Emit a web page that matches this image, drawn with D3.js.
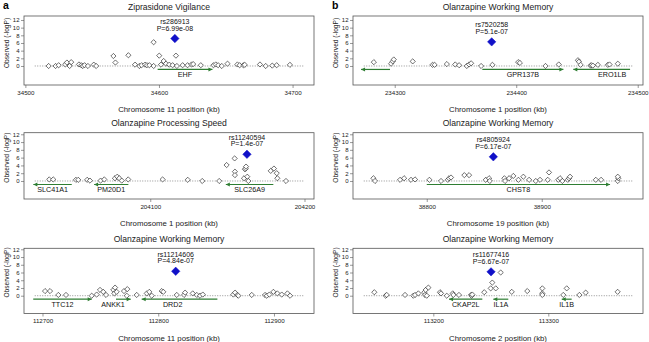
<!DOCTYPE html>
<html>
<head>
<meta charset="utf-8">
<script src="https://cdn.jsdelivr.net/npm/d3@7"></script>
<style>
  body { margin: 0; background: #fff; }
  text { font-family: "Liberation Sans", Arial, sans-serif; }
</style>
</head>
<body>
<script>
// 面板 a1: Ziprasidone Vigilance (chr11)
const a1_pos = [34517.4, 34522.6, 34524.9, 34529.9, 34531.1, 34534.3, 34533.1, 34540.1, 34541.8, 34543.0, 34544.3, 34546.8, 34551.2, 34553.0, 34565.9, 34567.4, 34577.1, 34582.1, 34585.3, 34587.0, 34589.6, 34591.0, 34592.8, 34596.0, 34596.0, 34600.2, 34601.5, 34603.5, 34605.2, 34607.7, 34610.2, 34612.7, 34613.4, 34617.7, 34621.4, 34624.4, 34625.6, 34631.3, 34640.8, 34642.5, 34644.3, 34647.0, 34651.3, 34658.7, 34660.4, 34663.2, 34664.2, 34675.6, 34679.9, 34684.8, 34688.1, 34698.0];
const a1_logp = [0, 0, 0.2, 0.4, 0.9, 1.0, 0, 0.4, 0.2, 0, 0.2, 0, 0.35, 0, 2.6, 0.9, 2.8, 0.35, 0, 0.2, 0.35, 0.2, 0.2, 0, 6.2, 2.7, 0.35, 1.3, 0.6, 0.35, 0.2, 2.7, 0, 0.2, 0.2, 0.4, 0.5, 0.2, 0.2, 0.4, 0.2, 0, 0.6, 0.4, 0.2, 0.2, 0.3, 0.4, 0, 0.1, 0.2, 0.3];
const a1_genes = [
  { name: 'EHF', start: 34599, end: 34640, strand: '+' }
];

// 面板 b1: Olanzapine Working Memory (chr1)
const b1_pos = [234282.8, 234297.0, 234298.4, 234299.2, 234314.8, 234331.1, 234332.8, 234342.9, 234349.8, 234353.0, 234359.3, 234361.2, 234362.9, 234371.1, 234380.4, 234401.6, 234403.0, 234424.1, 234435.0, 234450.8, 234451.6, 234453.0, 234461.2, 234461.8, 234463.1, 234467.2, 234475.4, 234476.8, 234483.6];
const b1_logp = [1.0, 0.6, 1.2, 1.7, 1.2, 0.3, 0.3, 0.5, 0.4, 0.2, 0, 0.4, 0.7, 0, 0.3, 1.0, 0.8, 0, 0.4, 1.5, 1.1, 0.3, 0.1, 0.2, 0.1, 0.3, 0.3, 0.4, 0.6];
const b1_genes = [
  { name: '', start: 234272.3, end: 234296.1, strand: '-' },
  { name: 'GPR137B', start: 234372.1, end: 234438.8, strand: '+' },
  { name: 'ERO1LB', start: 234447.0, end: 234493.7, strand: '-', label: 234478.9 }
];

// 面板 a2: Olanzapine Processing Speed (chr1)
const a2_pos = [204034.5, 204037.1, 204051.8, 204053.3, 204059.1, 204060.9, 204067.8, 204070.2, 204077.1, 204078.6, 204079.9, 204081.5, 204085.7, 204108.0, 204124.3, 204133.7, 204144.7, 204149.5, 204154.7, 204154.9, 204154.9, 204160.8, 204161.4, 204161.9, 204162.1, 204162.9, 204163.6, 204178.1, 204180.2, 204182.0, 204182.4, 204188.0];
const a2_logp = [0.4, 0.4, 0.3, 0.3, 0.3, 0.1, 0.1, 0.4, 0.7, 1.1, 0.7, 0.1, 0.4, 0.4, 0.3, 0, 0, 4.1, 5.8, 2.4, 1.5, 0.7, 3.0, 3.2, 3.7, 1.1, 0, 2.6, 3.2, 2.0, 0.7, 0];
const a2_genes = [
  { name: 'SLC41A1', start: 204024.2, end: 204049.1, strand: '-' },
  { name: 'PM20D1', start: 204063.6, end: 204085.8, strand: '-' },
  { name: 'SLC26A9', start: 204149.0, end: 204179.8, strand: '-' }
];

// 面板 b2: Olanzapine Working Memory (chr19)
const b2_pos = [38753.6, 38755.0, 38776.8, 38780.3, 38786.3, 38789.8, 38802.3, 38812.4, 38818.3, 38819.4, 38821.1, 38832.7, 38836.8, 38851.3, 38854.2, 38854.8, 38867.5, 38868.1, 38871.6, 38875.3, 38879.7, 38884.0, 38889.0, 38894.8, 38898.5, 38905.2, 38906.3, 38914.4, 38915.9, 38917.9, 38922.6, 38923.7, 38924.6, 38947.0, 38951.6, 38966.1, 38966.6, 38966.1];
const b2_logp = [0.7, 0, 0.3, 0.7, 0.3, 0.4, 0.3, 0, 0.3, 0.7, 0.9, 1.5, 1.5, 0.3, 0.7, 0, 0.7, 0, 0.7, 1.3, 0.3, 1.1, 0.3, 0, 0.3, 0.3, 2.2, 0.3, 0.7, 0, 0.3, 0.7, 1.1, 0.3, 0.3, 0, 0.7, 1.1];
const b2_genes = [
  { name: 'CHST8', start: 38800.0, end: 38959.4, strand: '+' }
];

// 面板 a3: Olanzapine Working Memory (chr11)
const a3_pos = [112702.2, 112706.5, 112713.7, 112720.3, 112742.5, 112746.8, 112749.7, 112752.5, 112754.9, 112761.2, 112762.7, 112762.1, 112764.1, 112770.4, 112773.3, 112772.8, 112781.4, 112790.1, 112792.3, 112794.4, 112803.0, 112804.4, 112816.0, 112822.3, 112823.2, 112829.8, 112833.3, 112836.1, 112838.5, 112864.9, 112866.4, 112868.4, 112869.2, 112880.8, 112892.3, 112893.8, 112896.0, 112899.5, 112902.9, 112906.7, 112911.6, 112913.9];
const a3_logp = [1.2, 1.2, 0.2, 0.2, 0, 0.3, 1.5, 1.0, 0.2, 1.5, 2.1, 0.6, 1.0, 1.2, 1.7, 0, 0.2, 0.6, 1.0, 0, 1.2, 1.0, 0.2, 0.2, 0.8, 0.6, 0.2, 0, 0.3, 0.3, 0.8, 0.2, 0, 0.2, 0.2, 0, 0.3, 1.0, 0.6, 0.3, 0.6, 0];
const a3_genes = [
  { name: 'TTC12', start: 112692.0, end: 112742.5, strand: '+' },
  { name: 'ANKK1', start: 112763.5, end: 112776.2, strand: '+', label: 112760.9 },
  { name: 'DRD2', start: 112785.7, end: 112851.1, strand: '-', label: 112812.5 }
];

// 面板 b3: Olanzapine Working Memory (chr2)
const b3_pos = [113148.7, 113158.6, 113159.5, 113175.4, 113182.6, 113184.1, 113187.0, 113192.2, 113193.4, 113195.7, 113192.8, 113194.3, 113205.8, 113206.7, 113211.7, 113216.9, 113217.4, 113222.3, 113232.8, 113233.4, 113233.9, 113244.3, 113249.9, 113251.3, 113254.3, 113258.6, 113268.2, 113281.7, 113294.8, 113294.8, 113294.8, 113313.0, 113316.0, 113327.0, 113332.5, 113360.3];
const b3_logp = [0.9, 0, 0.2, 0.2, 0, 0.2, 0.6, 0.9, 1.5, 2.1, 0.2, 0, 0.9, 0.6, 0, 0.6, 0.2, 0.2, 0.2, 0, 0.3, 0.9, 1.9, 3.4, 1.9, 6.0, 1.0, 1.2, 1.9, 0.6, 0.2, 0.2, 1.9, 0.2, 0.8, 1.0];
const b3_genes = [
  { name: 'CKAP2L', start: 113213.7, end: 113242.6, strand: '-' },
  { name: 'IL1A', start: 113252.2, end: 113265.2, strand: '-' },
  { name: 'IL1B', start: 113311.7, end: 113320.3, strand: '-' }
];

// 面板元信息：标题、染色体、x 范围、刻度、最显著 SNP
const panels = [
  { tag: 'a', col: 0, row: 0, title: 'Ziprasidone Vigilance', chr: 11, xlim: [34507, 34708], ticks: [34500, 34600, 34700],
    pos: a1_pos, logp: a1_logp, genes: a1_genes, lead: { rs: 'rs286913', p: '6.99e-08', pos: 34611.9 } },
  { tag: 'b', col: 1, row: 0, title: 'Olanzapine Working Memory', chr: 1, xlim: [234274.5, 234495.5], ticks: [234300, 234400, 234500],
    pos: b1_pos, logp: b1_logp, genes: b1_genes, lead: { rs: 'rs7520258', p: '5.1e-07', pos: 234379.8 } },
  { tag: '', col: 0, row: 1, title: 'Olanzapine Processing Speed', chr: 1, xlim: [204025.1, 204199.2], ticks: [204100, 204200],
    pos: a2_pos, logp: a2_logp, genes: a2_genes, lead: { rs: 'rs11240594', p: '1.4e-07', pos: 204162.7 } },
  { tag: '', col: 1, row: 1, title: 'Olanzapine Working Memory', chr: 19, xlim: [38745.2, 38978.7], ticks: [38800, 38900],
    pos: b2_pos, logp: b2_logp, genes: b2_genes, lead: { rs: 'rs4805924', p: '6.17e-07', pos: 38857.9 } },
  { tag: '', col: 0, row: 2, title: 'Olanzapine Working Memory', chr: 11, xlim: [112693.3, 112925.3], ticks: [112700, 112800, 112900],
    pos: a3_pos, logp: a3_logp, genes: a3_genes, lead: { rs: 'rs11214606', p: '4.84e-07', pos: 112815.1 } },
  { tag: '', col: 1, row: 2, title: 'Olanzapine Working Memory', chr: 2, xlim: [113139.5, 113373], ticks: [113200, 113300],
    pos: b3_pos, logp: b3_logp, genes: b3_genes, lead: { rs: 'rs11677416', p: '6.67e-07', pos: 113250.2 } }
];

const yTicks = [0, 2, 4, 6, 8, 10, 12];

// 画布布局
const width = 649;
const height = 342;
const cols = [{ left: 24, right: 314 }, { left: 353, right: 643 }];
const rows = [
  { top: 16, bottom: 85, ylim: [-4.96, 13.04] },
  { top: 132.7, bottom: 199, ylim: [-4.63, 12.41] },
  { top: 248.3, bottom: 313.5, ylim: [-4.6, 12.26] }
];
const geneColor = '#2e7d32';
const leadColor = '#1010c8';

const svg = d3.select('body').append('svg')
  .attr('width', width)
  .attr('height', height);

// 菱形（R pch=5 的样子）
function diamond(r) {
  return `M0,${-r}L${r},0L0,${r}L${-r},0Z`;
}

function drawPanel(p) {
  const c = cols[p.col], rw = rows[p.row];
  const pad = (p.xlim[1] - p.xlim[0]) * 0.04;
  const x = d3.scaleLinear().domain([p.xlim[0] - pad, p.xlim[1] + pad]).range([c.left, c.right]);
  const y = d3.scaleLinear().domain(rw.ylim).range([rw.bottom, rw.top]);
  const g = svg.append('g');
  const cx = (c.left + c.right) / 2;

  // 标题
  g.append('text')
    .attr('x', cx).attr('y', rw.top - 9.3)
    .attr('dy', '0.35em')
    .attr('text-anchor', 'middle')
    .attr('font-size', 8.6)
    .attr('fill', '#222')
    .text(p.title);

  if (p.tag) {
    g.append('text')
      .attr('x', c.left - 21).attr('y', 8.5)
      .attr('font-size', 10.5)
      .attr('font-weight', 'bold')
      .text(p.tag);
  }

  // 边框
  g.append('rect')
    .attr('x', c.left).attr('y', rw.top)
    .attr('width', c.right - c.left).attr('height', rw.bottom - rw.top)
    .attr('fill', 'none')
    .attr('stroke', '#555')
    .attr('stroke-width', 0.8);

  // y=0 虚线
  g.append('line')
    .attr('x1', x(p.xlim[0])).attr('x2', x(p.xlim[1]))
    .attr('y1', y(0)).attr('y2', y(0))
    .attr('stroke', '#666')
    .attr('stroke-width', 0.7)
    .attr('stroke-dasharray', '1,1.5');

  // 基因箭头
  const gg = g.append('g');
  p.genes.forEach(ge => {
    const ay = y(-0.9);
    const x1 = x(ge.start), x2 = x(ge.end);
    gg.append('line')
      .attr('x1', x1).attr('x2', x2)
      .attr('y1', ay).attr('y2', ay)
      .attr('stroke', geneColor)
      .attr('stroke-width', 1.2);
    const hx = ge.strand === '+' ? x2 : x1;
    const dir = ge.strand === '+' ? 1 : -1;
    gg.append('path')
      .attr('d', `M${hx},${ay}L${hx - dir * 4},${ay - 2}L${hx - dir * 4},${ay + 2}Z`)
      .attr('fill', geneColor);
    if (ge.name) {
      const lx = ge.label !== undefined ? ge.label : (ge.start + ge.end) / 2;
      gg.append('text')
        .attr('x', x(lx)).attr('y', y(-2.3))
        .attr('dy', '0.35em')
        .attr('text-anchor', 'middle')
        .attr('font-size', 7.2)
        .attr('fill', '#111')
        .text(ge.name);
    }
  });

  // SNP 点
  const pts = p.pos.map((v, i) => [v, p.logp[i]]);
  g.append('g').selectAll('path')
    .data(pts).enter()
    .append('path')
    .attr('transform', d => `translate(${x(d[0])},${y(d[1])})`)
    .attr('d', diamond(2.6))
    .attr('fill', 'white')
    .attr('stroke', '#111')
    .attr('stroke-width', 0.6);

  // 最显著 SNP
  const lp = -Math.log10(+p.lead.p);
  const lx = x(p.lead.pos), ly = y(lp);
  g.append('path')
    .attr('transform', `translate(${lx},${ly})`)
    .attr('d', diamond(4.2))
    .attr('fill', leadColor)
    .attr('stroke', leadColor)
    .attr('stroke-width', 0.5);
  g.append('text')
    .attr('x', lx).attr('y', ly - 17)
    .attr('dy', '0.35em')
    .attr('text-anchor', 'middle')
    .attr('font-size', 7)
    .attr('fill', '#111')
    .text(p.lead.rs);
  g.append('text')
    .attr('x', lx).attr('y', ly - 10.3)
    .attr('dy', '0.35em')
    .attr('text-anchor', 'middle')
    .attr('font-size', 7)
    .attr('fill', '#111')
    .text('P=' + p.lead.p);

  // x 轴
  const xa = g.append('g')
    .attr('transform', `translate(0,${rw.bottom})`)
    .call(d3.axisBottom(x).tickValues(p.ticks).tickFormat(d3.format('d')).tickSize(3).tickPadding(2.5));
  xa.select('.domain').remove();
  xa.selectAll('line').attr('stroke', '#555').attr('stroke-width', 0.6);
  xa.selectAll('text').attr('font-size', 6.2).attr('font-family', null).attr('fill', '#222');

  g.append('text')
    .attr('x', cx).attr('y', rw.bottom + 24.5)
    .attr('dy', '0.35em')
    .attr('text-anchor', 'middle')
    .attr('font-size', 7.8)
    .attr('fill', '#222')
    .text(`Chromosome ${p.chr} position (kb)`);

  // y 轴
  const ya = g.append('g')
    .attr('transform', `translate(${c.left},0)`)
    .call(d3.axisLeft(y).tickValues(yTicks).tickSize(3).tickPadding(1.5));
  ya.select('.domain').remove();
  ya.selectAll('line').attr('stroke', '#555').attr('stroke-width', 0.6);
  ya.selectAll('text').attr('font-size', 6).attr('font-family', null).attr('fill', '#222');

  g.append('text')
    .attr('transform', `translate(${c.left - 17},${y(6)}) rotate(-90)`)
    .attr('dy', '0.35em')
    .attr('text-anchor', 'middle')
    .attr('font-size', 6.6)
    .attr('fill', '#222')
    .text('Observed (-logP)');
}

panels.forEach(drawPanel);
</script>
</body>
</html>
